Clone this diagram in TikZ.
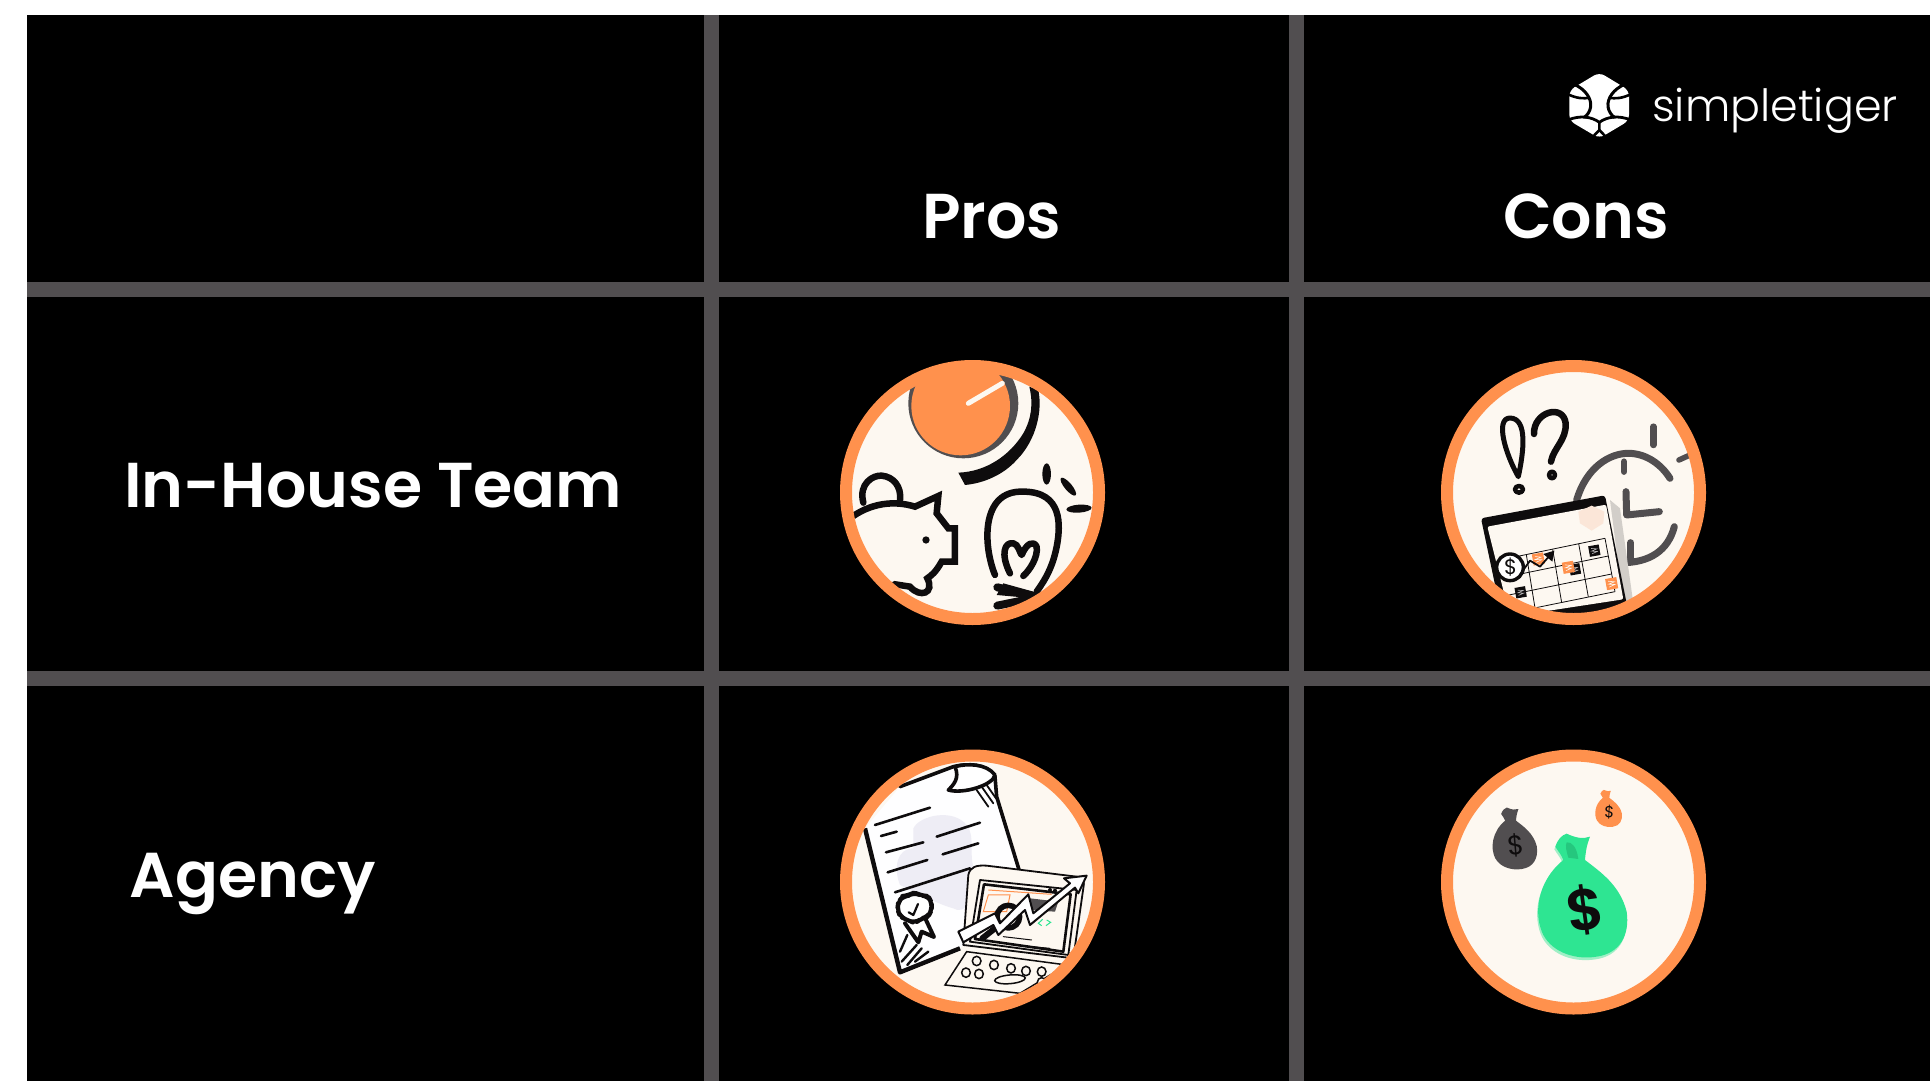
\documentclass[tikz,border=0pt]{standalone}
\usepackage{fontspec}
\newfontfamily\popsemi{Poppins SemiBold}
\newfontfamily\poplight{Poppins Light}
\newfontfamily\popreg{Poppins}
\definecolor{gridc}{HTML}{514E50}
\definecolor{ringc}{HTML}{FF914D}
\definecolor{creamc}{HTML}{FDF8F1}
\definecolor{greenc}{HTML}{2EE592}
\definecolor{greend}{HTML}{25C77E}
\definecolor{inkc}{HTML}{0E0C0D}
\definecolor{lavc}{HTML}{EEEDF5}
\definecolor{peachc}{HTML}{FBE6D8}
\tikzset{
  gridbar/.style={fill=gridc,draw=none},
  headlabel/.style={text=white,inner sep=0pt,anchor=base west,font=\popsemi\fontsize{63.4}{63.4}\selectfont},
  ringline/.style={draw=ringc,line width=12pt},
  ink/.style={draw=inkc,line cap=round,line join=round},
  grayink/.style={draw=gridc,line cap=round,line join=round},
  thinkey/.style={draw=inkc,fill=creamc,line width=1.5pt},
}
\newcommand{\bagpath}{(430,375) .. controls (350,440) and (340,540) .. (370,600) .. controls (400,655) and (470,675) .. (530,665) .. controls (600,655) and (630,600) .. (620,530) .. controls (600,450) and (540,410) .. (495,375) .. controls (497,350) and (500,330) .. (510,305) .. controls (490,312) and (470,310) .. (440,296) .. controls (425,300) and (412,315) .. (406,335) .. controls (415,350) and (425,360) .. (430,375) -- cycle}
\begin{document}
\begin{tikzpicture}[x=1pt,y=-1pt]
\useasboundingbox (0,0) rectangle (1930,1081);
\fill[white] (0,0) rectangle (1930,1081);
\fill[black] (27,15) rectangle (1930,1081);
% grid
\fill[gridbar] (704,15) rectangle (719,1081);
\fill[gridbar] (1289,15) rectangle (1304,1081);
\fill[gridbar] (27,282) rectangle (1930,297);
\fill[gridbar] (27,671) rectangle (1930,686);
% labels
\node[headlabel] (pros) at (922,238) {Pros};
\node[headlabel] (cons) at (1503,238) {Cons};
\node[headlabel] (inhouse) at (124,507) {In-House Team};
\node[headlabel] (agency) at (129.5,897) {Agency};
% logo
\node[text=white,inner sep=0pt,anchor=base west,font=\poplight\fontsize{44.4}{44.4}\selectfont] (logotext) at (1652,121) {simpletiger};
\begin{scope}[shift={(1560,65)},x=.3333pt,y=-.3333pt]
\fill[white,rounded corners=6pt] (118,22) -- (207,76) -- (207,167) -- (118,220) -- (28,167) -- (28,76) -- cycle;
\draw[black,line width=3pt] (42,58) .. controls (75,72) and (95,100) .. (92,125) .. controls (90,140) and (82,150) .. (72,158);
\draw[black,line width=3pt] (194,58) .. controls (161,72) and (141,100) .. (144,125) .. controls (146,140) and (154,150) .. (164,158);
\draw[black,line width=2.6pt] (24,88) .. controls (50,100) and (70,102) .. (90,98);
\draw[black,line width=2.6pt] (212,88) .. controls (186,100) and (166,102) .. (146,98);
\draw[black,line width=2.8pt] (24,165) .. controls (60,150) and (95,155) .. (118,172) .. controls (141,155) and (176,150) .. (212,165);
\draw[black,line width=2.6pt] (118,172) -- (118,195) -- (98,216);
\draw[black,line width=2.6pt] (118,195) -- (138,216);
\end{scope}

% ------- icon 1
\fill[creamc] (972.5,492.5) circle[radius=122];
\begin{scope}
\clip (972.5,492.5) circle[radius=122];
\begin{scope}[shift={(820,340)},x=.3333pt,y=-.3333pt]
\fill[gridc] (430,190) circle[radius=165];
\fill[ringc] (422,198) circle[radius=148];
\fill[ringc] (292,137) -- (522,100) -- (522,40) -- (292,40) -- cycle;
\draw[creamc,line width=5pt,line cap=round] (445,190) -- (547,130);
\fill[inkc] (628,140) -- (655,150) .. controls (668,210) and (650,300) .. (590,360) .. controls (550,405) and (490,430) .. (435,435) -- (415,398) .. controls (500,395) and (570,345) .. (610,280) .. controls (635,235) and (640,190) .. (628,140) -- cycle;
% piggy
\draw[ink,line width=6.5pt] (130,488) .. controls (115,430) and (160,405) .. (185,407) .. controls (220,410) and (245,440) .. (240,480);
\draw[ink,line width=6.5pt,fill=creamc,line cap=butt,miter limit=4,line join=miter] (90,535) .. controls (150,490) and (220,480) .. (285,500) -- (355,468) -- (350,520) -- (385,565) -- (405,565) -- (405,665) -- (365,665) .. controls (345,700) and (335,705) .. (322,715) .. controls (345,760) and (300,775) .. (270,740) -- (225,733) -- (100,800) -- (50,600) -- cycle;
\fill[inkc] (318,600) circle[radius=11];
% bulb
\draw[ink,line width=6.5pt] (525,705) .. controls (490,620) and (480,450) .. (610,455) .. controls (730,455) and (720,560) .. (712,610) .. controls (700,680) and (675,720) .. (650,755);
\draw[ink,line width=6.5pt] (570,700) .. controls (540,640) and (555,605) .. (580,610) .. controls (595,612) and (600,640) .. (605,645) .. controls (620,610) and (640,600) .. (650,620) .. controls (655,650) and (630,690) .. (610,708);
\draw[ink,line width=8pt] (532,742) -- (640,768);
\draw[ink,line width=8pt] (532,797) -- (640,775);
\fill[inkc] (550,730) -- (640,755) -- (640,775) -- (530,765) -- cycle;
\fill[inkc] (680,402) ellipse[x radius=13,y radius=32];
\fill[inkc,rotate around={-50:(745,440)}] (745,440) ellipse[x radius=34,y radius=11];
\fill[inkc,rotate around={4:(777,506)}] (777,506) ellipse[x radius=38,y radius=12];
\end{scope}
\end{scope}
\draw[ringline] (972.5,492.5) circle[radius=126.5];

% ------- icon 2
\fill[creamc] (1573.5,492.5) circle[radius=122];
\begin{scope}
\clip (1573.5,492.5) circle[radius=122];
\begin{scope}[shift={(1420,340)},x=.3333pt,y=-.3333pt]
% marks
\draw[ink,line width=5pt] (295,410) .. controls (255,340) and (225,235) .. (270,234) .. controls (325,235) and (310,340) .. (295,410) -- cycle;
\draw[ink,line width=4.5pt] (297,448) ellipse[x radius=12,y radius=10];
\draw[ink,line width=6.5pt] (342,282) .. controls (340,215) and (430,190) .. (437,250) .. controls (440,300) and (400,325) .. (393,365);
\draw[ink,line width=4.5pt] (396,405) ellipse[x radius=9,y radius=10];
% clock
\draw[grayink,line width=7pt] (470,480) .. controls (500,380) and (570,340) .. (625,340) .. controls (680,340) and (725,375) .. (750,415);
\draw[grayink,line width=7pt] (763,560) .. controls (745,630) and (690,670) .. (600,668);
\draw[grayink,line width=6.5pt] (612,365) -- (612,395);
\draw[grayink,line width=7pt] (618,455) -- (620,525) -- (718,515);
\draw[grayink,line width=7pt] (632,608) -- (632,655);
\draw[grayink,line width=6.5pt] (700,260) -- (700,315);
\draw[grayink,line width=5.5pt] (777,360) -- (810,345);
\fill[gridc!25!creamc] (570,480) -- (600,505) -- (640,790) -- (610,790) -- cycle;
% tablet
\fill[inkc,rounded corners=3pt] (183,535) -- (555,466) -- (620,790) -- (660,900) -- (260,900) -- cycle;
\fill[creamc,rounded corners=2pt] (202,560) -- (558,494) -- (610,778) -- (270,830) -- cycle;
\fill[peachc] (515,497) -- (553,515) -- (550,550) -- (515,572) -- (480,550) -- (475,515) -- cycle;
\foreach \a/\b/\c/\d in {240/660/555/595, 248/713/565/648, 257/767/575/702, 265/820/585/755, 319/644/345/804, 398/628/425/788, 476/611/505/771, 555/595/585/755}
  \draw[inkc,line width=.8pt] (\a,\b) -- (\c,\d);
\foreach \cx/\cy in {523/632, 465/688, 302/757} {
  \fill[inkc,rotate around={10:(\cx,\cy)}] (\cx-16,\cy-16) rectangle (\cx+16,\cy+16);
  \draw[gridc!40,line width=.6pt,rotate around={10:(\cx,\cy)}] (\cx-8,\cy-8) -- (\cx+8,\cy-4) -- (\cx-8,\cy) -- (\cx+8,\cy+4) -- (\cx-8,\cy+8);
}
\foreach \cx/\cy in {355/657, 445/682, 575/731} {
  \fill[ringc,rotate around={10:(\cx,\cy)}] (\cx-17,\cy-17) rectangle (\cx+17,\cy+17);
  \draw[creamc,line width=.6pt,rotate around={10:(\cx,\cy)}] (\cx-9,\cy-9) -- (\cx+9,\cy-4) -- (\cx-9,\cy) -- (\cx+9,\cy+4) -- (\cx-9,\cy+9);
}
\draw[ink,line width=1.8pt] (310,690) -- (330,662) -- (360,680) -- (395,640);
\fill[inkc] (403,632) -- (397,665) -- (370,642) -- cycle;
\draw[ink,line width=3.4pt,fill=white] (270,682) circle[radius=40];
\node[text=inkc,inner sep=0pt,font=\popreg\fontsize{21}{21}\selectfont] (coin) at (272,682) {\$};
\end{scope}
\end{scope}
\draw[ringline] (1573.5,492.5) circle[radius=126.5];

% ------- icon 3
\fill[creamc] (972.5,882) circle[radius=122];
\begin{scope}
\clip (972.5,882) circle[radius=122];
\begin{scope}[shift={(820,735)},x=.3333pt,y=-.3333pt]
\fill[white!97!lavc] (135,280) -- (240,155) -- (400,95) .. controls (440,85) and (500,85) .. (525,120) -- (530,180) -- (605,430) -- (420,640) -- (240,712) -- cycle;
\fill[lavc] (280,280) .. controls (300,240) and (400,220) .. (440,270) .. controls (470,310) and (440,370) .. (470,420) .. controls (470,500) and (430,540) .. (400,520) .. controls (360,510) and (280,470) .. (240,450) .. controls (220,400) and (230,340) .. (280,340) -- cycle;
\draw[ink,line width=3.6pt] (240,155) -- (400,95) .. controls (440,85) and (500,85) .. (525,125) -- (530,185) -- (605,430);
\draw[ink,line width=4.4pt,line cap=butt] (135,280) -- (240,712) -- (420,640);
\draw[ink,line width=3.6pt,fill=white] (405,95) .. controls (420,130) and (400,150) .. (385,165) .. controls (430,178) and (520,150) .. (525,120) .. controls (500,85) and (440,85) .. (405,95) -- cycle;
\foreach \a/\b/\c/\d in {470/165/505/215, 485/155/520/205, 500/150/528/190}
  \draw[ink,line width=1.8pt] (\a,\b) -- (\c,\d);
\foreach \a/\b/\c/\d in {165/270/330/218, 183/303/230/290, 350/305/480/263, 198/352/310/322, 368/358/475/325, 203/412/322/375, 225/472/450/400}
  \draw[ink,line width=2.6pt] (\a,\b) -- (\c,\d);
\foreach \a/\b/\c/\d in {240/650/262/600, 245/680/290/630, 262/690/305/640, 285/680/325/650}
  \draw[ink,line width=2.4pt] (\a,\b) -- (\c,\d);
% seal
\draw[ink,line width=4pt,fill=white] (255,565) -- (295,622) -- (305,590) -- (342,606) -- (318,555);
\draw[ink,line width=4.2pt,fill=white,rounded corners=6pt] (283,472) -- (303,482) -- (325,483) -- (335,503) -- (335,525) -- (325,545) -- (305,550) -- (285,565) -- (262,555) -- (240,545) -- (232,522) -- (235,500) -- (250,483) -- (265,482) -- cycle;
\draw[ink,line width=2.2pt] (266,532) -- (280,540) -- (294,507);
% laptop keyboard
\draw[thinkey] (440,650) -- (375,750) -- (600,775) -- (740,690) -- cycle;
\foreach \cx/\cy in {470/678, 522/690, 573/700, 618/708, 665/710, 438/713, 477/717, 665/742}
  \draw[thinkey] (\cx,\cy) ellipse[x radius=13,y radius=14];
\draw[thinkey,rotate around={5:(570,733)}] (570,733) ellipse[x radius=46,y radius=13];
% screen
\draw[ink,line width=1.8pt,fill=creamc] (445,420) .. controls (450,395) and (470,390) .. (500,392) -- (770,425) .. controls (790,430) and (795,440) .. (790,460) -- (760,670) -- (430,630) -- cycle;
\draw[ink,line width=1.8pt,fill=creamc] (480,435) -- (770,465) -- (745,660) -- (450,620) -- cycle;
\draw[ink,line width=2.6pt] (492,448) -- (752,478) -- (730,650) -- (465,612) -- cycle;
\draw[ringc,line width=1pt] (505,465) -- (695,478);
\draw[ringc,line width=1pt] (505,480) -- (570,480) -- (560,530) -- (490,530) -- cycle;
\fill[gridc] (630,490) -- (715,500) -- (705,530) -- (620,525) -- cycle;
\fill[inkc] (690,465) circle[radius=6];
\fill[inkc] (705,467) circle[radius=6];
\draw[ink,line width=1pt] (550,605) -- (635,615);
\draw[ink,line width=1pt] (580,630) -- (690,640);
\draw[greenc,line width=1pt] (668,553) -- (655,565) -- (665,572);
\draw[greenc,line width=1pt] (680,555) -- (692,562) -- (678,572);
\draw[ink,line width=5.5pt] (565,545) circle[radius=34];
\draw[ink,line width=6pt] (535,572) -- (487,610);
% arrow
\draw[ink,line width=2pt,fill=white] (415,590) -- (525,535) -- (540,565) -- (625,478) -- (640,535) -- (750,445) -- (732,430) -- (800,422) -- (775,475) -- (765,458) -- (630,570) -- (615,525) -- (535,600) -- (520,570) -- (430,622) -- cycle;
\end{scope}
\end{scope}
\draw[ringline] (972.5,882) circle[radius=126.5];

% ------- icon 4
\fill[creamc] (1573.5,882) circle[radius=122];
\begin{scope}[shift={(1420,735)},x=.3333pt,y=-.3333pt]
\fill[greenc!45!creamc] [shift={(-3,8)}] \bagpath;
\fill[greenc] \bagpath;
\fill[greend] (440,322) .. controls (455,320) and (470,335) .. (475,372) -- (445,368) .. controls (440,350) and (435,335) .. (440,322) -- cycle;
\node[text=inkc,inner sep=0pt,rotate=8,font=\popsemi\fontsize{58}{58}\selectfont] (bigdollar) at (495,525) {\$};
\begin{scope}[shift={(40.5,69.5)},scale=.5]
\fill[gridc] \bagpath;
\end{scope}
\node[text=inkc,inner sep=0pt,rotate=5,font=\popreg\fontsize{27}{27}\selectfont] (graydollar) at (288,332) {\$};
\begin{scope}[shift={(419.5,75.9)},scale=.3]
\fill[ringc] \bagpath;
\end{scope}
\node[text=inkc,inner sep=0pt,rotate=-3,font=\popreg\fontsize{16}{16}\selectfont] (orangedollar) at (568,232) {\$};
\end{scope}
\draw[ringline] (1573.5,882) circle[radius=126.5];
\end{tikzpicture}
\end{document}
